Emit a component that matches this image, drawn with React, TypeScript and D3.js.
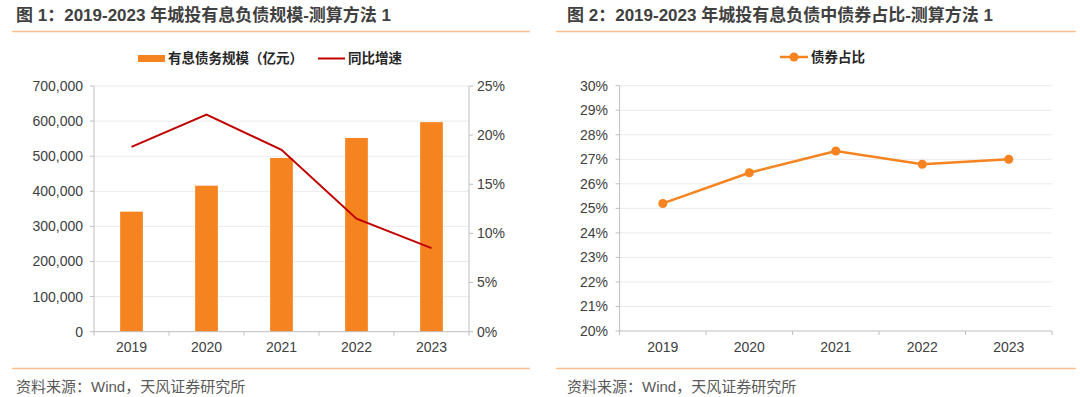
import React from "react";
import * as d3 from "d3";

const years = ["2019", "2020", "2021", "2022", "2023"];
const debtScale = [342000, 416000, 495000, 552000, 597000];
const yoyGrowth = [0.188, 0.221, 0.185, 0.115, 0.085];
const bondShare = [0.252, 0.2645, 0.2734, 0.268, 0.27];
const leftTicks = [0, 100000, 200000, 300000, 400000, 500000, 600000, 700000];
const rightTicks = [0, 0.05, 0.1, 0.15, 0.2, 0.25];
const shareTicks = [0.2, 0.21, 0.22, 0.23, 0.24, 0.25, 0.26, 0.27, 0.28, 0.29, 0.3];

const title1 = "图 1：2019-2023 年城投有息负债规模-测算方法 1";
const title2 = "图 2：2019-2023 年城投有息负债中债券占比-测算方法 1";
const source = "资料来源：Wind，天风证券研究所";
const legend1a = "有息债务规模（亿元）";
const legend1b = "同比增速";
const legend2 = "债券占比";

const FONT = "'Liberation Sans', Arial, 'Noto Sans CJK SC', sans-serif";
const ORANGE = "#F5831F";
const RED = "#C00000";
const TEXT = "#404040";
const GRID = "#EBEBEB";
const AXIS = "#BFBFBF";
const DECOR = "#F9C08F";
const TICK_FS = 14;

function ChartLeft() {
  const x0 = 94, x1 = 469, yTop = 86, yBot = 331.7;
  const x = d3.scaleBand().domain(years).range([x0, x1]);
  const y = d3.scaleLinear().domain([0, 700000]).range([yBot, yTop]);
  const y2 = d3.scaleLinear().domain([0, 0.25]).range([yBot, yTop]);
  const bw = 22.7;
  const fmt = d3.format(",");
  const line = d3
    .line<number>()
    .x((_, i) => (x(years[i]) as number) + x.bandwidth() / 2)
    .y((d) => y2(d));
  return (
    <g>
      {leftTicks.slice(1).map((t) => (
        <line key={t} x1={x0} x2={x1} y1={y(t)} y2={y(t)} stroke={GRID} strokeWidth={1} />
      ))}
      {years.map((yr, i) => (
        <rect
          key={yr}
          x={(x(yr) as number) + x.bandwidth() / 2 - bw / 2}
          y={y(debtScale[i])}
          width={bw}
          height={yBot - y(debtScale[i])}
          fill={ORANGE}
        />
      ))}
      <line x1={x0} x2={x0} y1={yTop} y2={yBot} stroke={AXIS} />
      <line x1={x1} x2={x1} y1={yTop} y2={yBot} stroke={AXIS} />
      <line x1={x0} x2={x1} y1={yBot} y2={yBot} stroke={AXIS} />
      {leftTicks.map((t) => (
        <g key={t}>
          <line x1={x0 - 4} x2={x0} y1={y(t)} y2={y(t)} stroke={AXIS} />
          <text x={83} y={y(t)} dy="0.35em" textAnchor="end" fontSize={TICK_FS} fill={TEXT} fontFamily={FONT}>
            {fmt(t)}
          </text>
        </g>
      ))}
      {rightTicks.map((t) => (
        <g key={t}>
          <line x1={x1} x2={x1 + 4} y1={y2(t)} y2={y2(t)} stroke={AXIS} />
          <text x={477} y={y2(t)} dy="0.35em" textAnchor="start" fontSize={TICK_FS} fill={TEXT} fontFamily={FONT}>
            {d3.format(".0%")(t)}
          </text>
        </g>
      ))}
      {years.map((yr, i) => (
        <g key={yr}>
          <line x1={x(yr) as number} x2={x(yr) as number} y1={yBot} y2={yBot + 4} stroke={AXIS} />
          <text x={(x(yr) as number) + x.bandwidth() / 2} y={351.5} textAnchor="middle" fontSize={TICK_FS} fill={TEXT} fontFamily={FONT}>
            {yr}
          </text>
        </g>
      ))}
      <line x1={x1} x2={x1} y1={yBot} y2={yBot + 4} stroke={AXIS} />
      <path d={line(yoyGrowth) || ""} fill="none" stroke={RED} strokeWidth={2} />
      <rect x={138} y={55} width={27} height={7} fill={ORANGE} />
      <text x={168} y={63} fontSize={13.5} fontWeight="bold" fill="#262626" fontFamily={FONT}>
        {legend1a}
      </text>
      <line x1={318} x2={345} y1={58.5} y2={58.5} stroke={RED} strokeWidth={2} />
      <text x={348} y={63} fontSize={13.5} fontWeight="bold" fill="#262626" fontFamily={FONT}>
        {legend1b}
      </text>
    </g>
  );
}

function ChartRight() {
  const x0 = 619.6, x1 = 1052, yTop = 85.7, yBot = 331;
  const x = d3.scaleBand().domain(years).range([x0, x1]);
  const y = d3.scaleLinear().domain([0.2, 0.3]).range([yBot, yTop]);
  const cx = (i: number) => (x(years[i]) as number) + x.bandwidth() / 2;
  const line = d3
    .line<number>()
    .x((_, i) => cx(i))
    .y((d) => y(d));
  return (
    <g>
      {shareTicks.slice(1).map((t) => (
        <line key={t} x1={x0} x2={x1} y1={y(t)} y2={y(t)} stroke={GRID} strokeWidth={1} />
      ))}
      <line x1={x0} x2={x0} y1={yTop} y2={yBot} stroke={AXIS} />
      <line x1={x0} x2={x1} y1={yBot} y2={yBot} stroke={AXIS} />
      {shareTicks.map((t) => (
        <g key={t}>
          <line x1={x0 - 4} x2={x0} y1={y(t)} y2={y(t)} stroke={AXIS} />
          <text x={608} y={y(t)} dy="0.35em" textAnchor="end" fontSize={TICK_FS} fill={TEXT} fontFamily={FONT}>
            {d3.format(".0%")(t)}
          </text>
        </g>
      ))}
      {years.map((yr, i) => (
        <g key={yr}>
          <line x1={x(yr) as number} x2={x(yr) as number} y1={yBot} y2={yBot + 4} stroke={AXIS} />
          <text x={cx(i)} y={351.5} textAnchor="middle" fontSize={TICK_FS} fill={TEXT} fontFamily={FONT}>
            {yr}
          </text>
        </g>
      ))}
      <line x1={x1} x2={x1} y1={yBot} y2={yBot + 4} stroke={AXIS} />
      <path d={line(bondShare) || ""} fill="none" stroke={ORANGE} strokeWidth={2.5} />
      {bondShare.map((v, i) => (
        <circle key={i} cx={cx(i)} cy={y(v)} r={4.5} fill={ORANGE} />
      ))}
      <line x1={780} x2={808} y1={57} y2={57} stroke={ORANGE} strokeWidth={2.5} />
      <circle cx={794} cy={57} r={4.5} fill={ORANGE} />
      <text x={811} y={62} fontSize={13.5} fontWeight="bold" fill="#262626" fontFamily={FONT}>
        {legend2}
      </text>
    </g>
  );
}

export default function App() {
  return (
    <svg
      width={1080}
      height={397}
      style={{ position: "absolute", left: 0, top: 0, background: "#fff" }}
    >
      <rect width={1080} height={397} fill="#fff" />
      <text x={16} y={21} fontSize={17} fontWeight="bold" fill={TEXT} fontFamily={FONT}>
        {title1}
      </text>
      <text x={567} y={21} fontSize={17} fontWeight="bold" fill={TEXT} fontFamily={FONT}>
        {title2}
      </text>
      <line x1={12} x2={530} y1={31.5} y2={31.5} stroke={DECOR} strokeWidth={1.5} />
      <line x1={556} x2={1076} y1={31.5} y2={31.5} stroke={DECOR} strokeWidth={1.5} />
      <line x1={12} x2={530} y1={368.5} y2={368.5} stroke={DECOR} strokeWidth={1.5} />
      <line x1={556} x2={1076} y1={368.5} y2={368.5} stroke={DECOR} strokeWidth={1.5} />
      <text x={16} y={392} fontSize={15} fill="#595959" fontFamily={FONT}>
        {source}
      </text>
      <text x={567} y={392} fontSize={15} fill="#595959" fontFamily={FONT}>
        {source}
      </text>
      <ChartLeft />
      <ChartRight />
    </svg>
  );
}
